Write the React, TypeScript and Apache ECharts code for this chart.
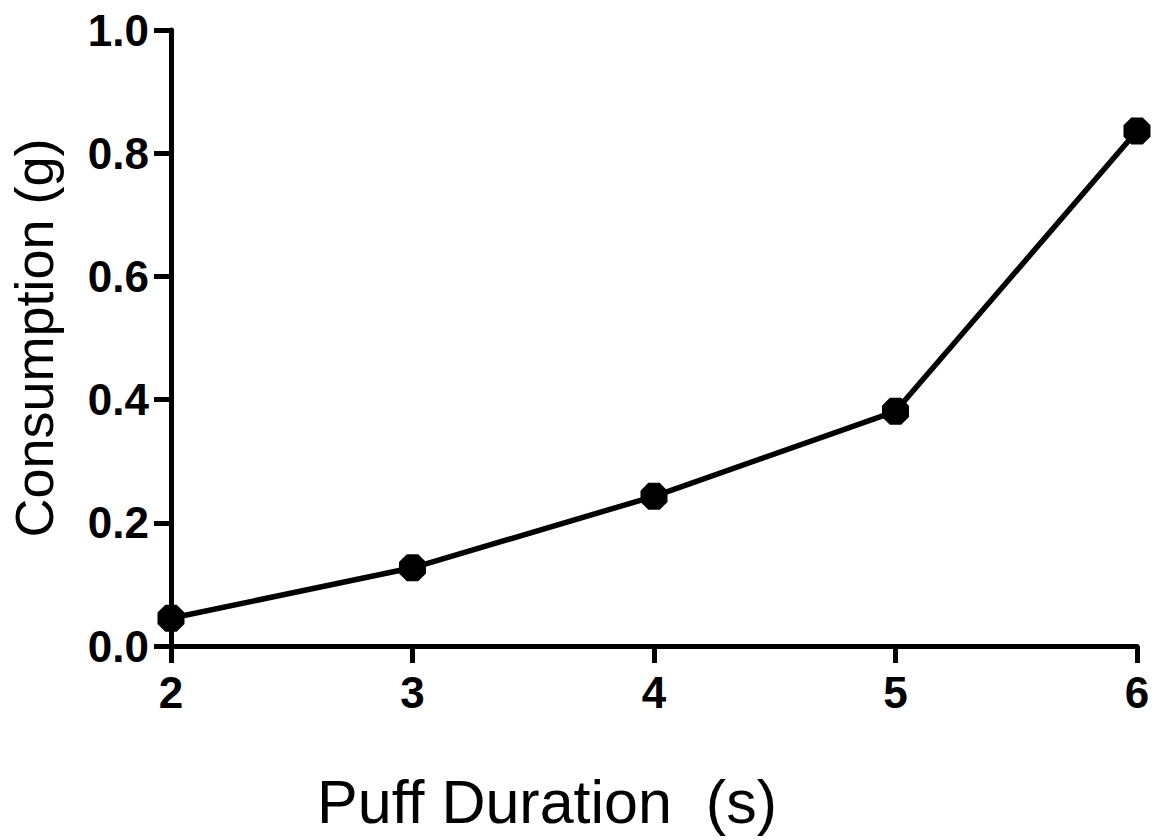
import React, { useEffect, useRef } from "react";
import * as echarts from "echarts";

const durations = [2, 3, 4, 5, 6];
const consumption = [0.045, 0.127, 0.243, 0.381, 0.836];
const xTitle = "Puff Duration  (s)";
const yTitle = "Consumption (g)";

const octagon =
  "path://M29,0 L71,0 L100,29 L100,71 L71,100 L29,100 L0,71 L0,29 Z";

export default function App() {
  const ref = useRef<HTMLDivElement>(null);
  useEffect(() => {
    if (!ref.current) return;
    const chart = echarts.init(ref.current, null, { renderer: "svg" });
    const font = "'Liberation Sans', Arial, Helvetica, sans-serif";
    chart.setOption({
      animation: false,
      backgroundColor: "#ffffff",
      grid: {
        left: 171,
        right: 23,
        top: 30,
        bottom: 194,
        containLabel: false,
        outerBoundsMode: "none",
      },
      xAxis: {
        type: "value",
        min: 2,
        max: 6,
        interval: 1,
        name: xTitle,
        nameLocation: "middle",
        nameGap: 125,
        nameTextStyle: {
          fontFamily: font,
          fontSize: 61,
          color: "#000",
          padding: [0, 214, 0, 0],
        },
        axisLine: { show: true, lineStyle: { color: "#000", width: 5 } },
        axisTick: { show: true, inside: false, length: 17, lineStyle: { color: "#000", width: 5 } },
        axisLabel: {
          margin: 24,
          fontFamily: font,
          fontSize: 44,
          fontWeight: "bold",
          color: "#000",
        },
        splitLine: { show: false },
      },
      yAxis: {
        type: "value",
        min: 0,
        max: 1,
        interval: 0.2,
        name: yTitle,
        nameLocation: "middle",
        nameGap: 110,
        nameRotate: 90,
        nameTextStyle: { fontFamily: font, fontSize: 54, color: "#000" },
        axisLine: { show: true, lineStyle: { color: "#000", width: 5 } },
        axisTick: { show: true, inside: false, length: 17, lineStyle: { color: "#000", width: 5 } },
        axisLabel: {
          margin: 22,
          fontFamily: font,
          fontSize: 44,
          fontWeight: "bold",
          color: "#000",
          formatter: (v: number) => v.toFixed(1),
        },
        splitLine: { show: false },
      },
      series: [
        {
          type: "line",
          data: durations.map((d, i) => [d, consumption[i]]),
          symbol: octagon,
          symbolSize: 27,
          lineStyle: { color: "#000", width: 5.5 },
          itemStyle: { color: "#000", borderWidth: 0 },
          clip: false,
        },
      ],
    });
    return () => chart.dispose();
  }, []);
  return (
    <div
      ref={ref}
      style={{ position: "absolute", left: 0, top: 0, width: 1160, height: 840 }}
    />
  );
}
